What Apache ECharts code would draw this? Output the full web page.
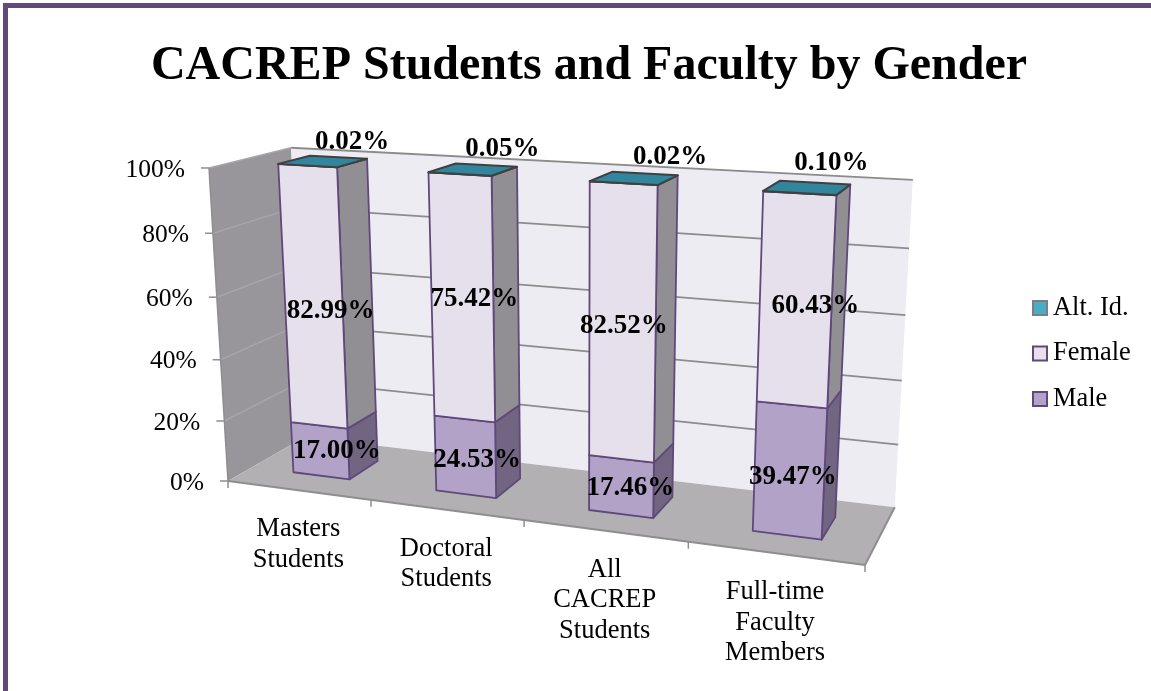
<!DOCTYPE html>
<html>
<head>
<meta charset="utf-8">
<style>
  html, body { margin: 0; padding: 0; background: #fff; }
  #chart { width: 1151px; height: 691px; }
</style>
<script src="https://cdn.jsdelivr.net/npm/echarts@6/dist/echarts.min.js"></script>
</head>
<body>
<div id="chart"></div>
<script>
const categories = ['Masters\nStudents', 'Doctoral\nStudents', 'All\nCACREP\nStudents', 'Full-time\nFaculty\nMembers'];
const male = [17.0, 24.53, 17.46, 39.47];
const female = [82.99, 75.42, 82.52, 60.43];
const altId = [0.02, 0.05, 0.02, 0.1];
const valueTicks = [0, 20, 40, 60, 80, 100];

const SERIF = '"Liberation Serif", "Times New Roman", serif';
const PURPLE = '#5F497A';

// hand placed labels in the original, offset in px from the middle of each segment
const maleShift = [[2, 9], [-1, 12], [-1, 12], [-4, 16]];
const femaleShift = [[2, 19], [-1, 7], [-9, 9], [12, 12]];
const altShift = [[29, -19], [29, -21], [36, -21], [24, -25]];

// perspective of the 3D box: u along categories, v up the values, d into the page
function project(u, v, d) {
  const w = 1 - 0.1316 * u - 0.0516 * v + 0.0863 * d;
  return [
    (228 + 523.2 * u - 29.8 * v + 103 * d) / w,
    (481 + 9.6 * u - 321.7 * v - 6.4 * d) / w,
  ];
}

// flat grid pixel -> cube coordinates
function toCube(params, pt) {
  const cs = params.coordSys;
  return [(pt[0] - cs.x) / cs.width, (cs.y + cs.height - pt[1]) / cs.height];
}

function poly(points, fill, stroke, width) {
  return {
    type: 'polygon',
    shape: { points: points },
    style: { fill: fill, stroke: stroke || null, lineWidth: width || 0, lineJoin: 'round' },
  };
}

function line(a, b, color, width) {
  return {
    type: 'line',
    shape: { x1: a[0], y1: a[1], x2: b[0], y2: b[1] },
    style: { stroke: color, lineWidth: width },
  };
}

function renderBox(params, api) {
  const kids = [
    poly([project(0, 0, 0), project(0, 1, 0), project(0, 1, 1), project(0, 0, 1)], '#98969B'),
    poly([project(0, 0, 1), project(0, 1, 1), project(1, 1, 1), project(1, 0, 1)], '#EEECF3'),
    poly([project(0, 0, 0), project(1, 0, 0), project(1, 0, 1), project(0, 0, 1)], '#B3B0B4'),
  ];
  valueTicks.forEach((t) => {
    const v = toCube(params, api.coord([0, t]))[1];
    if (t > 0) {
      kids.push(line(project(0, v, 0), project(0, v, 1), '#A6A5A9', 1.5));
      kids.push(line(project(0, v, 1), project(1, v, 1), '#8C8C8C', 1.8));
    }
    const p = project(0, v, 0);
    kids.push(line([p[0] - 8, p[1]], p, '#8E8E8E', 1.5));
    kids.push({
      type: 'text',
      style: {
        text: t + '%', x: p[0] - 24, y: p[1] + 2,
        font: '25.5px ' + SERIF, fill: '#000', align: 'right', verticalAlign: 'middle',
      },
    });
  });
  kids.push(line(project(0, 0, 0), project(0, 1, 0), '#8E8E8E', 1.5));
  kids.push(line(project(0, 0, 0), project(1, 0, 0), '#8E8E8E', 2));
  kids.push(line(project(1, 0, 0), project(1, 0, 1), '#8E8E8E', 2));
  categories.forEach((c, i) => {
    const p = project(i / categories.length, 0, 0);
    kids.push(line(p, [p[0], p[1] + 7], '#8E8E8E', 1.5));
    const q = project((i + 1) / categories.length, 0, 0);
    if (i === categories.length - 1) kids.push(line(q, [q[0], q[1] + 7], '#8E8E8E', 1.5));
    const m = project((i + 0.5) / categories.length, 0, 0);
    kids.push({
      type: 'text',
      style: {
        text: c, x: m[0], y: m[1] + 24, lineHeight: 30.5,
        font: '26.5px ' + SERIF, fill: '#000', align: 'center', verticalAlign: 'top',
      },
    });
  });
  return { type: 'group', children: kids };
}

const BAR_HALF = 0.2; // of a category band
const D_FRONT = 0.3;
const D_BACK = 0.7;

function makeSegment(faceFill, sideFill, edge, hasTop) {
  return function (params, api) {
    const cat = api.value(0);
    const band = api.size([1, 0])[0];
    const lo = api.coord([cat, api.value(1)]);
    const hi = api.coord([cat, api.value(2)]);
    const u0 = toCube(params, [lo[0] - band * BAR_HALF, lo[1]]);
    const u1 = toCube(params, [lo[0] + band * BAR_HALF, lo[1]]);
    const top = toCube(params, hi)[1];
    const l = u0[0];
    const r = u1[0];
    const b = u0[1];
    const kids = [
      poly([project(r, b, D_FRONT), project(r, top, D_FRONT), project(r, top, D_BACK), project(r, b, D_BACK)], sideFill, PURPLE, 1.8),
      poly([project(l, b, D_FRONT), project(r, b, D_FRONT), project(r, top, D_FRONT), project(l, top, D_FRONT)], faceFill, edge, 1.8),
    ];
    if (hasTop) {
      kids.push(poly([project(l, top, D_FRONT), project(r, top, D_FRONT), project(r, top, D_BACK), project(l, top, D_BACK)], '#31859C', '#404040', 2));
    }
    return { type: 'group', children: kids };
  };
}

function renderLabel(params, api) {
  const cat = api.value(0);
  const lo = toCube(params, api.coord([cat, api.value(1)]));
  const hi = toCube(params, api.coord([cat, api.value(2)]));
  const p = project(lo[0], (lo[1] + hi[1]) / 2, 0.5);
  return {
    type: 'text',
    style: {
      text: (api.value(2) - api.value(1)).toFixed(2) + '%',
      x: p[0] + api.value(3), y: p[1] + api.value(4),
      font: 'bold 27px ' + SERIF, fill: '#000', align: 'center', verticalAlign: 'middle',
    },
  };
}

const maleRows = male.map((m, i) => [i, 0, m]);
const femaleRows = female.map((f, i) => [i, male[i], male[i] + f]);
const altRows = altId.map((a, i) => [i, male[i] + female[i], male[i] + female[i] + a]);
const labelRows = [].concat(
  maleRows.map((r, i) => r.concat(maleShift[i])),
  femaleRows.map((r, i) => r.concat(femaleShift[i])),
  altRows.map((r, i) => r.concat(altShift[i]))
);

const chart = echarts.init(document.getElementById('chart'), null, { renderer: 'canvas' });
chart.setOption({
  animation: false,
  backgroundColor: '#fff',
  title: {
    text: 'CACREP Students and Faculty by Gender',
    left: 584,
    top: 38,
    textAlign: 'center',
    textStyle: { fontFamily: SERIF, fontWeight: 'bold', fontSize: 48, color: '#000' },
  },
  graphic: [{
    type: 'rect',
    silent: true,
    shape: { x: 5.5, y: 5.5, width: 1300, height: 900 },
    style: { fill: 'none', stroke: '#604A7B', lineWidth: 5 },
  }],
  legend: {
    orient: 'vertical',
    left: 1027,
    top: 290,
    itemWidth: 14,
    itemHeight: 14,
    itemGap: 19.5,
    icon: 'rect',
    data: ['Alt. Id.', 'Female', 'Male'],
    textStyle: { fontFamily: SERIF, fontSize: 26.4, color: '#000', padding: [0, 0, 0, 1] },
  },
  grid: { left: 228, top: 168, width: 637, height: 313 },
  xAxis: { type: 'category', data: categories, show: false },
  yAxis: { type: 'value', min: 0, max: 100, interval: 20, show: false },
  series: [
    { type: 'custom', silent: true, clip: false, data: [[0]], renderItem: renderBox },
    {
      name: 'Male', type: 'custom', silent: true, data: maleRows,
      renderItem: makeSegment('#B3A2C7', '#716581', PURPLE, false),
      itemStyle: { color: '#B3A2C7', borderColor: PURPLE, borderWidth: 2 },
    },
    {
      name: 'Female', type: 'custom', silent: true, data: femaleRows,
      renderItem: makeSegment('#E6E0EC', '#918F94', PURPLE, false),
      itemStyle: { color: '#E6E0EC', borderColor: PURPLE, borderWidth: 2 },
    },
    {
      name: 'Alt. Id.', type: 'custom', silent: true, data: altRows,
      renderItem: makeSegment('#31859C', '#31859C', '#404040', true),
      itemStyle: { color: '#4BACC6', borderColor: '#7F7F7F', borderWidth: 2 },
    },
    { type: 'custom', silent: true, clip: false, data: labelRows, renderItem: renderLabel },
  ],
});
</script>
</body>
</html>
